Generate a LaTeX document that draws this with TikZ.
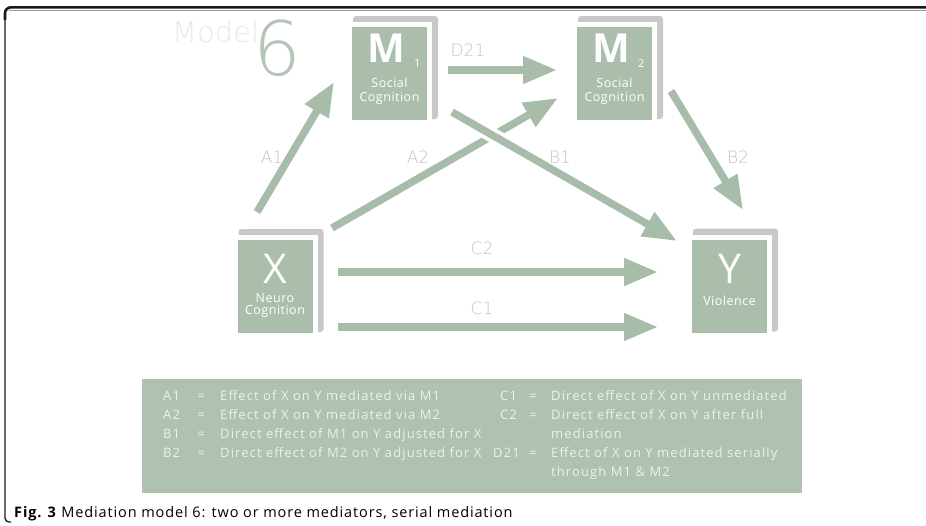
\documentclass[tikz,border=0pt]{standalone}
\usepackage{fontspec}
\setmainfont{Open Sans}
\IfFontExistsTF{DejaVu Sans ExtraLight}
 {\newfontfamily\thinfont{DejaVu Sans ExtraLight}}
 {\newfontfamily\thinfont{Open Sans}}
\newfontfamily\boxfont[LetterSpace=4]{Open Sans}
\newfontfamily\lgdfont[LetterSpace=8.5]{Open Sans}
\newfontfamily\capfont[LetterSpace=6]{Open Sans}
\usetikzlibrary{arrows.meta,backgrounds,calc}
\definecolor{boxg}{RGB}{170,190,171}
\definecolor{lgdg}{RGB}{175,193,176}
\definecolor{arrg}{RGB}{168,189,169}
\definecolor{shadowg}{RGB}{200,200,200}
\definecolor{lblgray}{RGB}{196,196,196}
\definecolor{modelgray}{RGB}{233,233,233}
\definecolor{sixg}{RGB}{180,196,181}
\definecolor{lgdtext}{RGB}{236,241,236}
\begin{document}
\begin{tikzpicture}[x=1pt,y=-1pt,
 card/.style={fill=boxg, draw=white, line width=5pt, minimum width=80pt, minimum height=98pt, inner sep=0pt},
 shadowbox/.style={fill=shadowg, rounded corners=3pt},
 arr/.style={draw=arrg, line width=7.5pt, -{Triangle[length=34pt,width=26pt]}},
 halo/.style={draw=white, line width=15pt},
 lbl/.style={text=lblgray, font=\thinfont\fontsize{17}{17}\selectfont, inner sep=0pt},
 big/.style={text=white, font=\fontsize{41}{41}\selectfont, inner sep=0pt, anchor=base},
 sub/.style={text=white, font=\fontsize{11}{11}\selectfont, inner sep=0pt, anchor=base west},
 small/.style={text=white, font=\boxfont\fontsize{12.5}{12.5}\selectfont, inner sep=0pt, anchor=base},
 lgd/.style={text=lgdtext, font=\lgdfont\fontsize{13}{13}\selectfont, inner sep=0pt, anchor=base west},
 lgdeq/.style={lgd, anchor=base},
]
\useasboundingbox (0,0) rectangle (926,525);
% frame
\draw[black!88, line width=1.4pt, rounded corners=4pt] (5,14) -- (5,522) -- (11,522);
\draw[black!40, line width=0.8pt] (9,10) -- (926,10);
\draw[black!90, line width=2.6pt, rounded corners=6pt] (926,7.3) -- (5,7.3) -- (5,20);

% title
\node[anchor=base west, inner sep=0pt, text=modelgray, font=\thinfont\fontsize{29}{29}\selectfont] (model) at (172,42) {Model};
\node[anchor=base west, inner sep=0pt, text=sixg, font=\thinfont\fontsize{75}{75}\selectfont] (six) at (253,75) {6};

% cards
\node[card] (M1) at (389.5,73.5) {};
\node[card] (M2) at (614.5,73.5) {};
\node[card] (X) at (275,286.5) {};
\node[card] (Y) at (729.5,286) {};

\begin{scope}[on background layer]
\fill[white] (0,0) rectangle (926,525);
\foreach \n in {M1,M2,X,Y}
  \fill[shadowbox] ($(\n.south west)+(6,-6)$) rectangle ($(\n.north east)+(6,-6)$);
\end{scope}

% card texts
\node[big, font=\bfseries\fontsize{40}{40}\selectfont] (M1l) at (386,62) {M};
\node[sub] (M1s) at (414,67) {1};
\node[small] (M1a) at (389.5,87) {Social};
\node[small] (M1b) at (389.5,101) {Cognition};
\node[big, font=\bfseries\fontsize{40}{40}\selectfont] (M2l) at (611,62) {M};
\node[sub] (M2s) at (638,67) {2};
\node[small] (M2a) at (614.5,87) {Social};
\node[small] (M2b) at (614.5,101) {Cognition};
\node[big] (Xl) at (275,283) {X};
\node[small] (Xa) at (275,302) {Neuro};
\node[small] (Xb) at (275,314) {Cognition};
\node[big] (Yl) at (729.5,283) {Y};
\node[small] (Ya) at (729.5,305) {Violence};

% connectors
\draw[arr] ($(X.north)+(-18,-23)$) -- ($(M1.west)+(-13,8.5)$);
\draw[arr] ($(X.north east)+(14.5,-7)$) -- ($(M2.west)+(-14,24.5)$);
\draw[halo, shorten >=60pt, shorten <=20pt] ($(M1.east)+(20,38.5)$) -- ($(Y.north west)+(-10,6.5)$);
\draw[arr] ($(M1.east)+(20,38.5)$) -- ($(Y.north west)+(-10,6.5)$);
\draw[arr] ($(M2.east)+(14,17.5)$) -- ($(Y.north)+(13.5,-24.5)$);
\draw[arr] ($(M1.east)+(16,-3.5)$) -- ($(M2.west)+(-15,-3.5)$);
\draw[arr] ($(X.east)+(20.5,-14.5)$) -- ($(Y.west)+(-29,-14)$);
\draw[arr] ($(X.east)+(20.5,40.5)$) -- ($(Y.west)+(-29,41)$);

% connector labels
\node[lbl] (lA1) at (272,157) {A1};
\node[lbl] (lA2) at (418,157) {A2};
\node[lbl] (lB1) at (560,157) {B1};
\node[lbl] (lB2) at (738,157) {B2};
\node[lbl] (lD21) at (468,50) {D21};
\node[lbl] (lC2) at (482,248) {C2};
\node[lbl] (lC1) at (482,308) {C1};

% legend
\node[fill=lgdg, anchor=north west, minimum width=660pt, minimum height=114pt, inner sep=0pt] (legend) at (142,379) {};
\node[lgd] (kA1) at (163,400) {A1};
\node[lgdeq] (eA1) at (201,400) {=};
\node[lgd] (tA1) at (220,400) {Effect of X on Y mediated via M1};
\node[lgd] (kA2) at (163,419) {A2};
\node[lgdeq] (eA2) at (201,419) {=};
\node[lgd] (tA2) at (220,419) {Effect of X on Y mediated via M2};
\node[lgd] (kB1) at (163,438) {B1};
\node[lgdeq] (eB1) at (201,438) {=};
\node[lgd] (tB1) at (220,438) {Direct effect of M1 on Y adjusted for X};
\node[lgd] (kB2) at (163,457) {B2};
\node[lgdeq] (eB2) at (201,457) {=};
\node[lgd] (tB2) at (220,457) {Direct effect of M2 on Y adjusted for X};
\node[lgd] (kC1) at (500,400) {C1};
\node[lgdeq] (eC1) at (533,400) {=};
\node[lgd] (tC1) at (551,400) {Direct effect of X on Y unmediated};
\node[lgd] (kC2) at (500,419) {C2};
\node[lgdeq] (eC2) at (533,419) {=};
\node[lgd] (tC2) at (551,419) {Direct effect of X on Y after full};
\node[lgd] (tC2b) at (551,438) {mediation};
\node[lgd] (kD21) at (493,457) {D21};
\node[lgdeq] (eD21) at (533,457) {=};
\node[lgd] (tD21) at (551,457) {Effect of X on Y mediated serially};
\node[lgd] (tD21b) at (551,476) {through M1 \& M2};

% caption
\node[anchor=base west, inner sep=0pt, font=\capfont\fontsize{14.5}{14.5}\selectfont] (cap) at (14,517) {\textbf{Fig. 3} Mediation model 6: two or more mediators, serial mediation};
\end{tikzpicture}
\end{document}
